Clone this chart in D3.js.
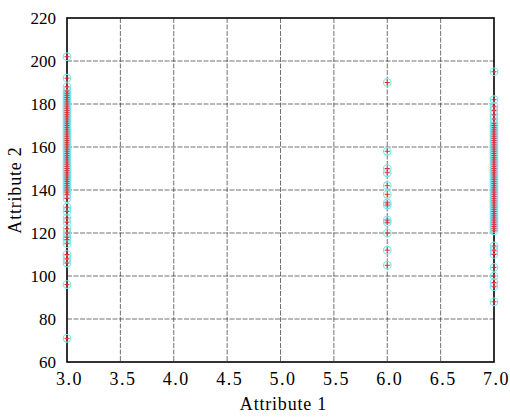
<!DOCTYPE html>
<html><head><meta charset="utf-8">
<script src="https://cdn.jsdelivr.net/npm/d3@7"></script>
<style>body{margin:0;background:#fff}svg{display:block}</style>
</head><body>
<script>
const xTicks=[3.0,3.5,4.0,4.5,5.0,5.5,6.0,6.5,7.0];
const yTicks=[60,80,100,120,140,160,180,200,220];
const col3=[202,192,188,186,185,184,183,182,181,180,179,178,177,176,175,174,173,172,171,170,169,168,167,166,165,164,163,162,161,160,159,158,157,156,155,154,153,152,151,150,149,148,147,146,145,144,143,142,141,140,139,138,136,132,130,127,125,122,120,118,117,115,110,108,106,96,71];
const col6=[190,158,150,148,142,138,134,133,126,125,120,112,105];
const col7=[195,182,179,177,175,173,171,170,169,168,167,166,165,164,163,162,161,160,159,158,157,156,155,154,153,152,151,150,149,148,147,146,145,144,143,142,141,140,139,138,137,136,135,134,133,132,131,130,129,128,127,126,125,124,123,122,121,114,112,110,104,100,97,95,88];
const points=[].concat(col3.map(v=>[3,v]),col6.map(v=>[6,v]),col7.map(v=>[7,v]));

const FONT='"Liberation Serif","Times New Roman",serif';
const W=510,H=417,L=67,R=494,T=18,B=362;
const svg=d3.select("body").append("svg").attr("width",W).attr("height",H);
const x=d3.scaleLinear().domain([3,7]).range([L,R]);
const y=d3.scaleLinear().domain([60,220]).range([B,T]);

const g=svg.append("g");
g.selectAll("line.gx").data(xTicks.slice(1,-1)).join("line")
 .attr("x1",d=>x(d)).attr("x2",d=>x(d)).attr("y1",T).attr("y2",B)
 .attr("stroke","#333").attr("stroke-width",0.7).attr("stroke-dasharray","5,1.5");
g.selectAll("line.gy").data(yTicks.slice(1,-1)).join("line")
 .attr("y1",d=>y(d)).attr("y2",d=>y(d)).attr("x1",L).attr("x2",R)
 .attr("stroke","#333").attr("stroke-width",0.7).attr("stroke-dasharray","5,1.5");

svg.append("rect").attr("x",L).attr("y",T).attr("width",R-L).attr("height",B-T)
 .attr("fill","none").attr("stroke","#000").attr("stroke-width",1.6);

const xa=svg.append("g").attr("transform",`translate(0,${B})`)
 .call(d3.axisBottom(x).tickValues(xTicks).tickFormat(d3.format(".1f")).tickSize(0).tickPadding(10));
xa.select(".domain").remove();
xa.selectAll("text").style("font-family",FONT).style("font-size","18px").style("letter-spacing","1.5px").attr("dx",2).attr("fill","#000");
const ya=svg.append("g").attr("transform",`translate(${L},0)`)
 .call(d3.axisLeft(y).tickValues(yTicks).tickFormat(d3.format("d")).tickSize(0).tickPadding(11));
ya.select(".domain").remove();
ya.selectAll("text").style("font-family",FONT).style("font-size","17px").attr("fill","#000");

svg.append("text").attr("x",(L+R)/2+3).attr("y",410).attr("text-anchor","middle")
 .style("font-family",FONT).style("font-size","18px").style("letter-spacing","0.8px").text("Attribute 1");
svg.append("text").attr("transform",`translate(21,${(T+B)/2}) rotate(-90)`).attr("text-anchor","middle")
 .style("font-family",FONT).style("font-size","18px").style("letter-spacing","0.8px").text("Attribute 2");

const m=svg.append("g");
m.selectAll("circle").data(points).join("circle")
 .attr("cx",d=>x(d[0])).attr("cy",d=>y(d[1])).attr("r",3.8)
 .attr("fill","none").attr("stroke","#78e4ec").attr("stroke-width",1.1);
const pl=m.selectAll("g.p").data(points).join("g").attr("class","p")
 .attr("transform",d=>`translate(${x(d[0])},${y(d[1])})`);
pl.append("line").attr("x1",-2.6).attr("x2",2.6).attr("stroke","#e0303a").attr("stroke-width",1);
pl.append("line").attr("y1",-2.6).attr("y2",2.6).attr("stroke","#e0303a").attr("stroke-width",1);
</script>
</body></html>
